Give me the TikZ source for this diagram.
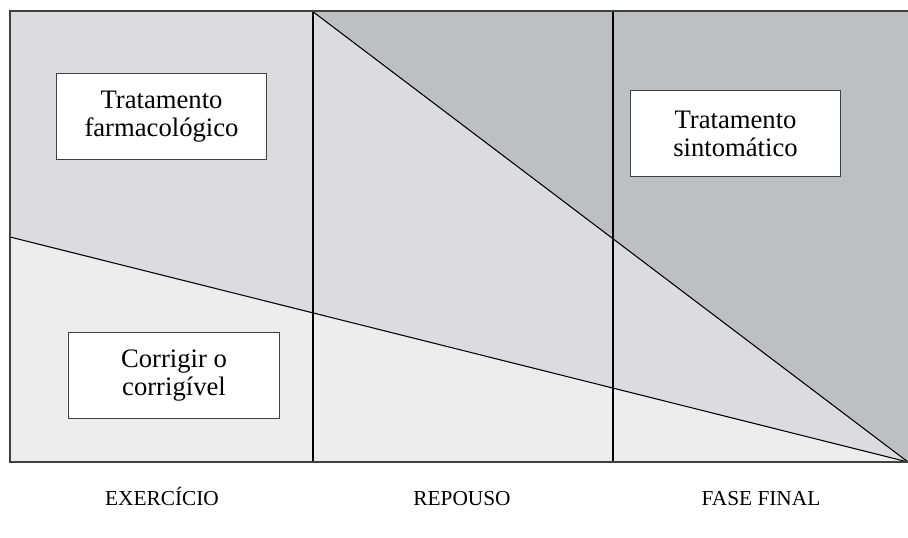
\documentclass[tikz,border=0pt]{standalone}
\usepackage{fontspec}
\setmainfont{Liberation Serif}
\usetikzlibrary{positioning}
\definecolor{midgray}{HTML}{DCDCDE}
\definecolor{palegray}{HTML}{EDEDED}
\definecolor{darkgray}{HTML}{BEBFC3}

\begin{document}
\begin{tikzpicture}[x=0.75pt,y=-0.75pt,
  txtbox/.style={draw=black!75,fill=white,line width=0.8pt,align=center,
    minimum width=158pt,minimum height=64pt,inner sep=0pt,
    font=\fontsize{20}{21}\selectfont},
  phase/.style={font=\fontsize{16}{18}\selectfont,anchor=base},
  frame/.style={draw=black!75,line width=1.3pt},
  split/.style={draw=black,line width=0.8pt}]
  \useasboundingbox (0,0) rectangle (908,538);
  % corners
  \coordinate (tl) at (10,11);
  \coordinate (tr) at (908,11);
  \coordinate (bl) at (10,462);
  \coordinate (br) at (908,462);
  \coordinate (ml) at (10,237);
  \coordinate (tm) at (312,11);
  % shaded areas
  \fill[midgray] (tl) -- (tm) -- (br) -- (ml) -- cycle;
  \fill[darkgray] (tm) -- (tr) -- (br) -- cycle;
  \fill[palegray] (ml) -- (br) -- (bl) -- cycle;
  % phase borders
  \coordinate (v_1t) at (313,11);  \coordinate (v_1b) at (313,462);
  \coordinate (v_2t) at (613,11);  \coordinate (v_2b) at (613,462);
  \path[split] (v_1t) edge (v_1b)
               (v_2t) edge (v_2b)
               (ml) edge (br)
               (tm) edge (br);
  \draw[frame] (tr) -- (tl) -- (bl) -- (br);
  % boxes
  \node[txtbox] (farm) at (161.5,116.5) {Tratamento\\farmacológico};
  \node[txtbox] (sint) at (735.5,133.5) {Tratamento\\sintomático};
  \node[txtbox] (corr) at (174,375.5) {Corrigir o\\corrigível};
  % phases
  \node[phase] (exer) at (162,506) {EXERCÍCIO};
  \node[phase] (rep) at (462,506) {REPOUSO};
  \node[phase] (fase) at (761,506) {FASE FINAL};
\end{tikzpicture}
\end{document}
